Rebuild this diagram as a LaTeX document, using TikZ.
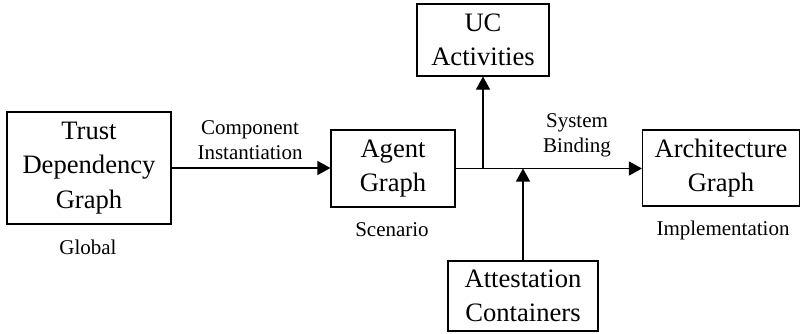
\documentclass[tikz,border=0pt]{standalone}
\usepackage{fontspec}
\setmainfont{Liberation Serif}
\usetikzlibrary{arrows.meta}
\begin{document}
\begin{tikzpicture}[x=1pt,y=-1pt,
  box/.style={draw,line width=1.1pt,inner sep=0pt,align=center,
    font=\fontsize{26.6}{34.5}\selectfont},
  lbl/.style={inner sep=0pt,align=center,font=\fontsize{21}{25}\selectfont},
  link/.style={line width=1.1pt,-{Triangle[length=13pt,width=14pt]}}]
\useasboundingbox (0,0) rectangle (801,333);
% blocks
\node[box,minimum width=164pt,minimum height=112pt] (tdg) at (89,168) {Trust\\Dependency\\Graph};
\node[box,minimum width=124pt,minimum height=77pt] (ag) at (393,168.5) {Agent\\Graph};
\node[box,minimum width=132pt,minimum height=72pt] (uc) at (483,40) {UC\\Activities};
\node[box,minimum width=150pt,minimum height=70pt] (att) at (523,296) {Attestation\\Containers};
\node[box,minimum width=157pt,minimum height=76pt] (arch) at (721,168) {Architecture\\Graph};
% captions
\node[lbl] (glob) at (88,247) {Global};
\node[lbl] (scen) at (392,230) {Scenario};
\node[lbl] (impl) at (723,230) {Implementation};
\node[lbl] (ci) at (250,140) {Component\\Instantiation};
\node[lbl] (sb) at (577,135) {System\\Binding};
% junctions on the binding line
\coordinate (j1) at (uc.south |- ag.east);
\coordinate (j2) at (att.north |- ag.east);
% connectors
\draw[link] (tdg.east) -- (tdg.east -| ag.west);
\draw[link] (ag.east) -- (ag.east -| arch.west);
\draw[link] (j1) -- (uc.south);
\draw[link] (att.north) -- (j2);
\end{tikzpicture}
\end{document}
